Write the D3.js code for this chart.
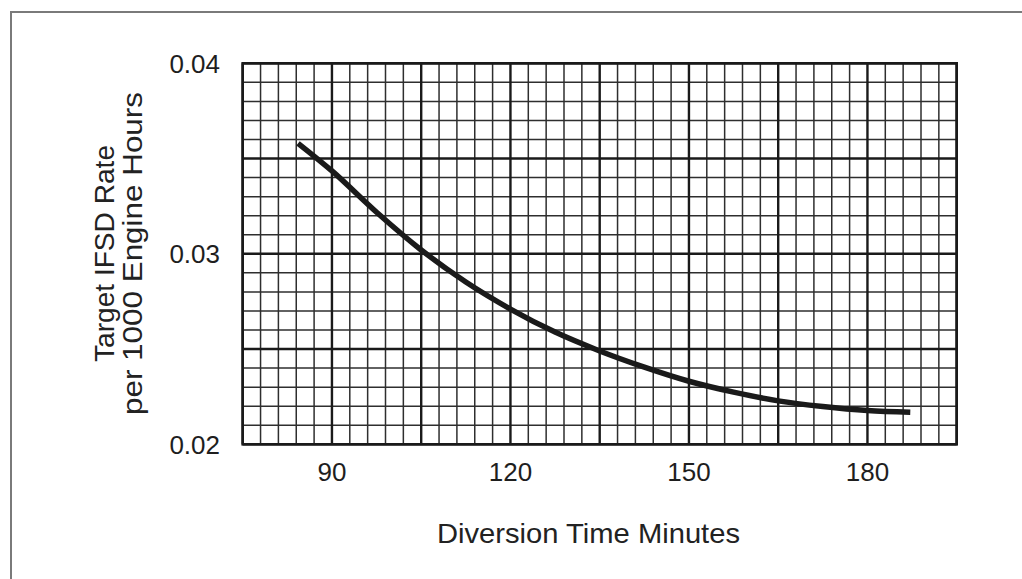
<!DOCTYPE html>
<html>
<head>
<meta charset="utf-8">
<script src="https://cdn.jsdelivr.net/npm/d3@7"></script>
<style>
  html, body { margin: 0; padding: 0; background: #fff; }
  svg { display: block; }
  text { font-family: "Liberation Sans", Arial, Helvetica, sans-serif; fill: #1e1e1e; }
</style>
</head>
<body>
<svg id="chart" width="1022" height="579"></svg>
<script>
// ---- data ----
const minutes = [84.3, 90, 97.5, 105, 112.5, 120, 127.5, 135, 142.5, 150, 157.5, 165, 172.5, 180, 187.2];
const ifsdRate = [0.0358, 0.03435, 0.03218, 0.0302, 0.02852, 0.0271, 0.02589, 0.0249, 0.02405, 0.02331, 0.02274, 0.02228, 0.02198, 0.02177, 0.02168];
const xDomain = [75, 195];
const yDomain = [0.02, 0.04];
const xTickValues = [90, 120, 150, 180];
const yTickValues = [0.02, 0.03, 0.04];
const yTickLabels = ["0.02", "0.03", "0.04"];
const xMajorStep = 15, xMinorStep = 3;
const yMajorStep = 0.005, yMinorStep = 0.001;
const xTitle = "Diversion Time Minutes";
const yTitleLines = ["Target IFSD Rate", "per 1000 Engine Hours"];

// ---- layout ----
const W = 1022, H = 579;
const plot = { left: 242.7, right: 956.7, top: 63.3, bottom: 444.3 };
const svg = d3.select("#chart");

const x = d3.scaleLinear().domain(xDomain).range([plot.left, plot.right]);
const y = d3.scaleLinear().domain(yDomain).range([plot.bottom, plot.top]);

// page border (left + top)
svg.append("path")
  .attr("d", `M11,${H} L11,12 L${W},12`)
  .attr("fill", "none").attr("stroke", "#7a7a7a").attr("stroke-width", 2);

// grid
const eps = 1e-9;
const xMinor = d3.range(xDomain[0], xDomain[1] + eps, xMinorStep);
const yMinor = d3.range(0, Math.round((yDomain[1] - yDomain[0]) / yMinorStep) + 1)
  .map(i => yDomain[0] + i * yMinorStep);
const isXMajor = v => Math.abs(((v - xDomain[0]) / xMajorStep) - Math.round((v - xDomain[0]) / xMajorStep)) < 1e-6;
const isYMajor = v => Math.abs(((v - yDomain[0]) / yMajorStep) - Math.round((v - yDomain[0]) / yMajorStep)) < 1e-6;

const grid = svg.append("g");
grid.selectAll("line.vx").data(xMinor.filter(v => !isXMajor(v))).join("line")
  .attr("x1", d => x(d)).attr("x2", d => x(d))
  .attr("y1", plot.top).attr("y2", plot.bottom)
  .attr("stroke", "#2e2e2e").attr("stroke-width", 1.5);
grid.selectAll("line.hy").data(yMinor.filter(v => !isYMajor(v))).join("line")
  .attr("y1", d => y(d)).attr("y2", d => y(d))
  .attr("x1", plot.left).attr("x2", plot.right)
  .attr("stroke", "#2e2e2e").attr("stroke-width", 1.5);
grid.selectAll("line.vxM").data(xMinor.filter(v => isXMajor(v))).join("line")
  .attr("x1", d => x(d)).attr("x2", d => x(d))
  .attr("y1", plot.top).attr("y2", plot.bottom)
  .attr("stroke", "#1a1a1a").attr("stroke-width", 2.4);
grid.selectAll("line.hyM").data(yMinor.filter(v => isYMajor(v))).join("line")
  .attr("y1", d => y(d)).attr("y2", d => y(d))
  .attr("x1", plot.left).attr("x2", plot.right)
  .attr("stroke", "#1a1a1a").attr("stroke-width", 2.4);

// frame
svg.append("rect")
  .attr("x", plot.left).attr("y", plot.top)
  .attr("width", plot.right - plot.left).attr("height", plot.bottom - plot.top)
  .attr("fill", "none").attr("stroke", "#1a1a1a").attr("stroke-width", 2.6);

// curve
const pts = minutes.map((m, i) => [m, ifsdRate[i]]);
svg.append("path")
  .datum(pts)
  .attr("d", d3.line().x(d => x(d[0])).y(d => y(d[1])).curve(d3.curveMonotoneX))
  .attr("fill", "none").attr("stroke", "#1a1a1a").attr("stroke-width", 5.5);

// x tick labels
svg.selectAll("text.xt").data(xTickValues).join("text")
  .attr("x", d => x(d)).attr("y", plot.bottom + 37)
  .attr("text-anchor", "middle").attr("font-size", 26)
  .text(d => d);

// y tick labels
svg.selectAll("text.yt").data(yTickValues).join("text")
  .attr("x", 220).attr("y", d => y(d))
  .attr("dy", "0.36em")
  .attr("text-anchor", "end").attr("font-size", 26)
  .text((d, i) => yTickLabels[i]);

// x title
svg.append("text")
  .attr("x", 437).attr("y", 542.5)
  .attr("font-size", 28)
  .attr("textLength", 303).attr("lengthAdjust", "spacingAndGlyphs")
  .style("fill", "#222")
  .text(xTitle);

// y title (two lines, rotated)
const yTitleBaselines = [113.5, 142];
const yTitleLengths = [217, 323];
const yCenter = 253.5;
yTitleLines.forEach((line, i) => {
  svg.append("text")
    .attr("transform", `translate(${yTitleBaselines[i]},${yCenter}) rotate(-90)`)
    .attr("text-anchor", "middle")
    .attr("font-size", 27)
    .attr("textLength", yTitleLengths[i]).attr("lengthAdjust", "spacingAndGlyphs")
    .style("fill", "#222")
    .text(line);
});
</script>
</body>
</html>
